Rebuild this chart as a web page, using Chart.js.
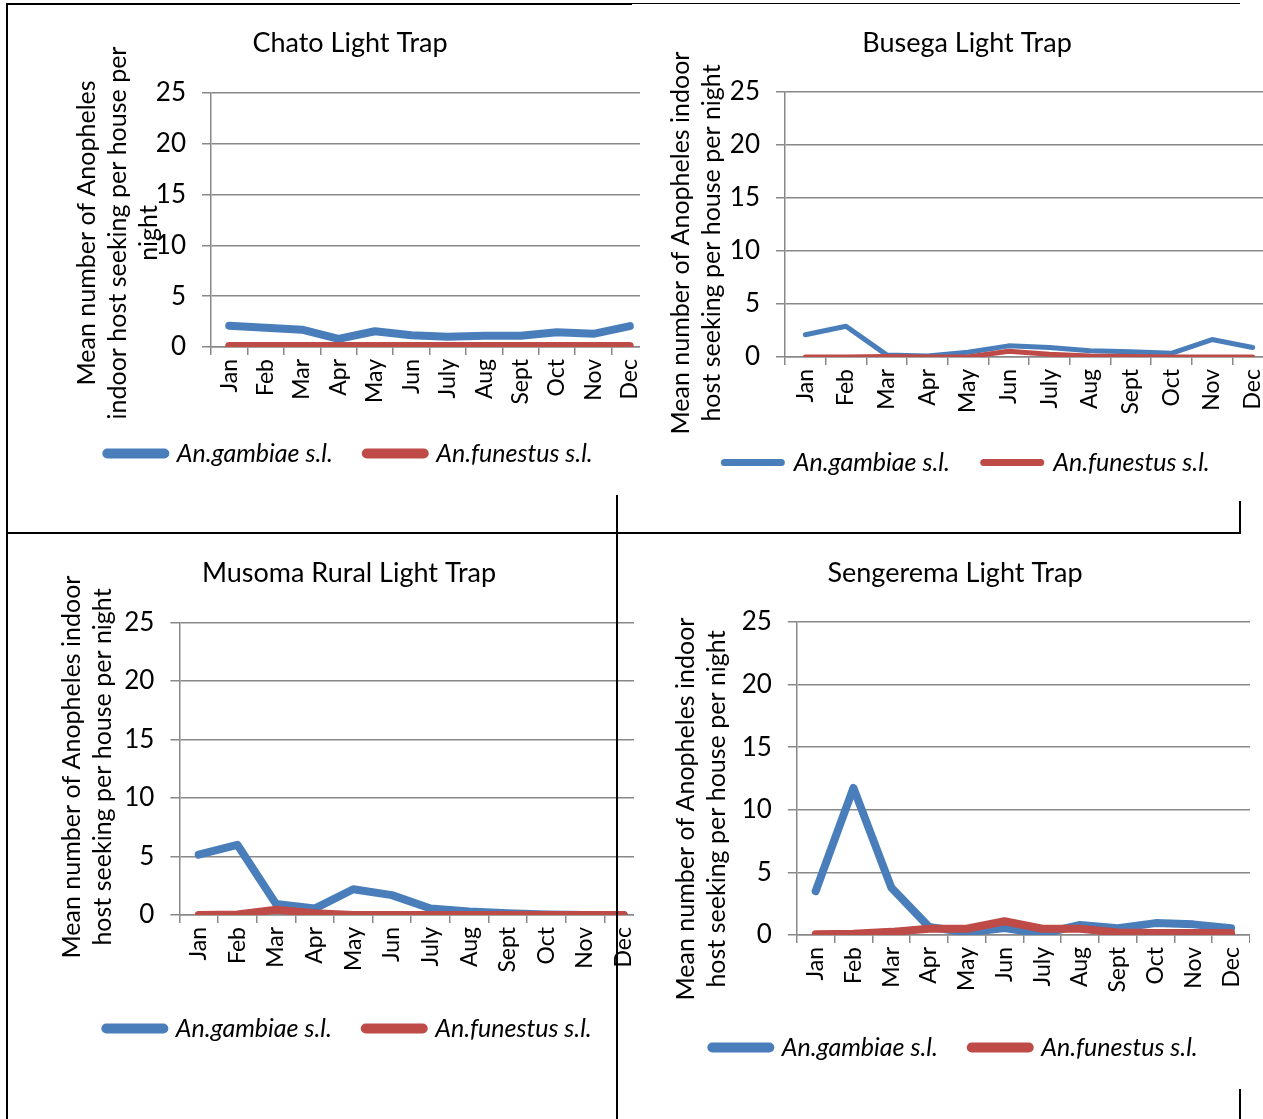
<html>
<head>
<meta charset="utf-8">
<script src="https://cdn.jsdelivr.net/npm/chart.js"></script>
<style>
body { margin: 0; background: #fff }
#page { position: relative; width: 1263px; height: 1119px; overflow: hidden; background: #fff }
.box { position: absolute }
.clip { position: absolute; overflow: hidden }
.cover { position: absolute; background: #fff }
.ln { position: absolute; background: #000 }
</style>
</head>
<body>
<div id="page">
  <div class="box" style="left:52px;top:10px;width:596px;height:466px"><canvas id="chato"></canvas></div>
  <div class="cover" style="left:640px;top:0;width:623px;height:533px"></div>
  <div class="clip" style="left:661px;top:10px;width:602px;height:475px">
    <div class="box" style="left:0;top:0;width:612px;height:475px"><canvas id="busega"></canvas></div>
  </div>
  <div class="box" style="left:55px;top:540px;width:588px;height:511px"><canvas id="musoma"></canvas></div>
  <div class="cover" style="left:634px;top:535px;width:629px;height:584px"></div>
  <div class="box" style="left:660px;top:540px;width:590px;height:530px"><canvas id="sengerema"></canvas></div>

  <div class="ln" style="left:6px;top:3px;width:626px;height:2px"></div>
  <div class="ln" style="left:632px;top:3px;width:608px;height:1px"></div>
  <div class="ln" style="left:6px;top:3px;width:2px;height:1116px"></div>
  <div class="ln" style="left:6px;top:532px;width:1235px;height:2px"></div>
  <div class="ln" style="left:616px;top:495px;width:2px;height:624px"></div>
  <div class="ln" style="left:1239px;top:501px;width:2px;height:33px"></div>
  <div class="ln" style="left:1239px;top:1089px;width:2px;height:30px"></div>
</div>

<script>
months = ['Jan', 'Feb', 'Mar', 'Apr', 'May', 'Jun', 'July', 'Aug', 'Sept', 'Oct', 'Nov', 'Dec']

chatoGambiae     = [2.1, 1.9, 1.7, 0.8, 1.55, 1.15, 1.0, 1.1, 1.1, 1.45, 1.3, 2.05]
chatoFunestus    = [0.1, 0.1, 0.1, 0.1, 0.1, 0.1, 0.1, 0.1, 0.1, 0.1, 0.1, 0.1]
busegaGambiae    = [2.1, 2.9, 0.2, 0.1, 0.45, 1.05, 0.9, 0.6, 0.5, 0.35, 1.65, 0.9]
busegaFunestus   = [0, 0, 0.05, 0, 0, 0.55, 0.25, 0.1, 0.05, 0, 0, 0]
musomaGambiae    = [5.15, 6.0, 0.95, 0.55, 2.2, 1.7, 0.55, 0.3, 0.15, 0.05, 0, 0]
musomaFunestus   = [0, 0.05, 0.45, 0.15, 0, 0, 0, 0, 0, 0, 0, 0]
sengeremaGambiae = [3.5, 11.75, 3.8, 0.65, 0.2, 0.55, 0.1, 0.8, 0.55, 0.95, 0.85, 0.55]
sengeremaFunestus= [0.05, 0.1, 0.25, 0.5, 0.5, 1.1, 0.5, 0.5, 0.2, 0.15, 0.15, 0.15]

yTicks = [0, 5, 10, 15, 20, 25]

blue = '#4a7ebb'
red = '#be4b48'
grey = '#888888'
font = 'Lato'

// y axis title, drawn by hand so it can sit off-centre like the original
Chart.register({
  id: 'ytitle',
  afterDraw(chart, args, o) {
    const ctx = chart.ctx
    ctx.save()
    ctx.font = '25px ' + font
    ctx.fillStyle = '#000'
    ctx.textAlign = 'center'
    ctx.textBaseline = 'middle'
    ctx.translate(o.x, o.y)
    ctx.rotate(-Math.PI / 2)
    o.lines.forEach((t, i) => ctx.fillText(t, 0, i * 31))
    ctx.restore()
  }
})

function makeChart(id, title, gam, fun, o) {
  new Chart(document.getElementById(id), {
    type: 'line',
    data: {
      labels: months,
      datasets: [
        { label: 'An.gambiae s.l.', data: gam, borderColor: blue, backgroundColor: blue, borderWidth: o.lw, order: 2 },
        { label: 'An.funestus s.l.', data: fun, borderColor: red, backgroundColor: red, borderWidth: o.lw, order: 1 }
      ]
    },
    options: {
      responsive: true,
      maintainAspectRatio: false,
      animation: false,
      layout: { padding: 0 },
      elements: {
        point: { radius: 0 },
        line: { tension: 0, borderCapStyle: 'round', borderJoinStyle: 'round' }
      },
      plugins: {
        title: {
          display: true, text: title, color: '#000',
          font: { family: font, size: 27, weight: 'normal' },
          padding: { top: 17, bottom: o.tb }
        },
        legend: {
          position: 'bottom',
          labels: {
            usePointStyle: true, pointStyle: 'line', pointStyleWidth: 57,
            color: '#000', padding: 34,
            font: { family: font, size: 25, style: 'italic' },
            sort: (a, b) => a.datasetIndex - b.datasetIndex,
            generateLabels: c => Chart.defaults.plugins.legend.labels.generateLabels(c)
              .map(l => Object.assign(l, { lineWidth: o.lw + 2, lineCap: 'round' }))
          }
        },
        tooltip: { enabled: false },
        ytitle: { lines: o.ytitle, x: o.tx, y: o.ty }
      },
      scales: {
        x: {
          offset: true,
          grid: { offset: true, drawOnChartArea: false, color: grey, lineWidth: 1.5, tickLength: 8 },
          border: { color: grey, width: 1.5 },
          ticks: { autoSkip: false, minRotation: 90, maxRotation: 90, padding: 4, color: '#000', font: { family: font, size: 23 } },
          afterFit: s => { s.height = o.xh; s.paddingLeft = 0; s.paddingRight = 0 }
        },
        y: {
          min: 0, max: 25,
          afterBuildTicks: s => { s.ticks = yTicks.map(v => ({ value: v })) },
          grid: { color: grey, lineWidth: 1.5, tickLength: 9 },
          border: { color: grey, width: 1.5 },
          ticks: { padding: 16, color: '#000', font: { family: font, size: 26 } },
          afterFit: s => { s.width = o.yw; s.paddingTop = 0; s.paddingBottom = 0 }
        }
      }
    }
  })
}

makeChart('chato', 'Chato Light Trap', chatoGambiae, chatoFunestus,
  { lw: 8, tb: 33.6, xh: 60, yw: 159, tx: 35, ty: 223,
    ytitle: ['Mean number of Anopheles', 'indoor host seeking per house per', 'night'] })

makeChart('busega', 'Busega Light Trap', busegaGambiae, busegaFunestus,
  { lw: 5, tb: 32.6, xh: 59, yw: 124, tx: 20, ty: 233,
    ytitle: ['Mean number of Anopheles indoor', 'host seeking per house per night'] })

makeChart('musoma', 'Musoma Rural Light Trap', musomaGambiae, musomaFunestus,
  { lw: 8, tb: 33.1, xh: 67, yw: 124.4, tx: 17, ty: 227,
    ytitle: ['Mean number of Anopheles indoor', 'host seeking per house per night'] })

makeChart('sengerema', 'Sengerema Light Trap', sengeremaGambiae, sengeremaFunestus,
  { lw: 8, tb: 32.6, xh: 66, yw: 136.8, tx: 26, ty: 269,
    ytitle: ['Mean number of Anopheles indoor', 'host seeking per house per night'] })
</script>
</body>
</html>
